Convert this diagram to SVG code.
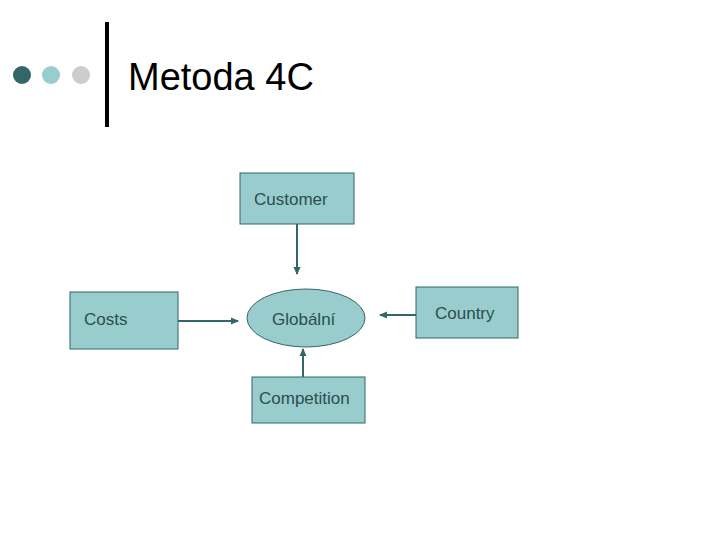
<svg xmlns="http://www.w3.org/2000/svg" width="720" height="540" viewBox="0 0 720 540">
<style>
.n{fill:#99cccc;stroke:#336666;stroke-width:1}
.t{font-family:"Liberation Sans",Arial,sans-serif;font-size:17px;fill:#2a4f4f}
.c{stroke:#336666;stroke-width:2;fill:none;marker-end:url(#a)}
</style>
<defs><marker id="a" markerWidth="8" markerHeight="8" refX="7" refY="4" orient="auto" markerUnits="userSpaceOnUse"><path d="M0,0.5 L8,4 L0,7.5 Z" fill="#336666"/></marker></defs>
<rect width="720" height="540" fill="#fff"/>
<circle cx="22" cy="75" r="9" fill="#336666"/>
<circle cx="51" cy="75" r="9" fill="#99cccc"/>
<circle cx="81" cy="75" r="9" fill="#cccccc"/>
<line x1="107" y1="22" x2="107" y2="127" stroke="#000" stroke-width="4"/>
<text x="128" y="90" font-family="Liberation Sans,Arial,sans-serif" font-size="38" fill="#000">Metoda 4C</text>
<g id="customer"><rect class="n" x="240" y="173" width="114" height="51"/><text class="t" x="254" y="205">Customer</text></g>
<g id="costs"><rect class="n" x="70" y="292" width="108" height="57"/><text class="t" x="84" y="325">Costs</text></g>
<g id="globalni"><ellipse class="n" cx="306" cy="318" rx="59" ry="29"/><text class="t" x="272" y="325">Globální</text></g>
<g id="country"><rect class="n" x="416" y="287" width="102" height="51"/><text class="t" x="435" y="319">Country</text></g>
<g id="competition"><rect class="n" x="252" y="377" width="113" height="46"/><text class="t" x="259" y="404">Competition</text></g>
<g id="connectors">
<line class="c" x1="297" y1="224" x2="297" y2="274"/>
<line class="c" x1="178" y1="321" x2="238" y2="321"/>
<line class="c" x1="416" y1="315" x2="380" y2="315"/>
<line class="c" x1="303" y1="377" x2="303" y2="349"/>
</g>
</svg>
